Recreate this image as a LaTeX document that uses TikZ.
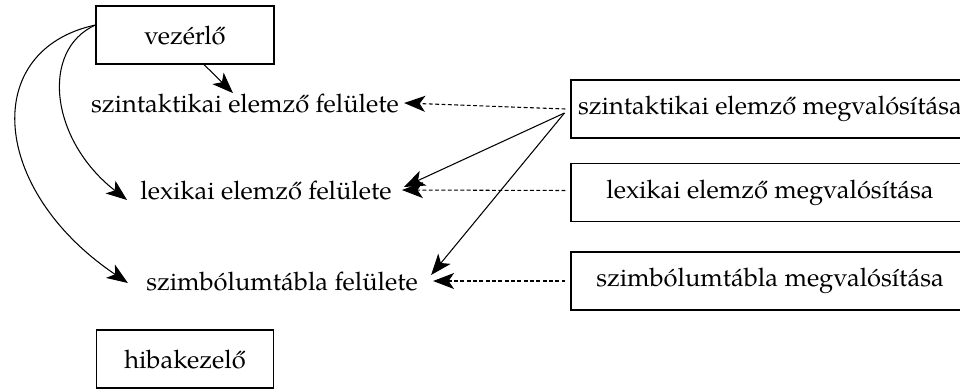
\documentclass[tikz,border=0pt]{standalone}
\usepackage{fontspec}
\setmainfont{TeX Gyre Pagella}
\usetikzlibrary{arrows.meta}
\begin{document}
\begin{tikzpicture}[x=0.02cm, y=-0.02cm, inner sep=0mm,
		font=\fontsize{14.5}{17}\selectfont,
		boxstyle/.style={draw, line width=0.65pt, minimum height=1.16cm},
		edgestyle/.style={line width=0.6pt, -{Stealth[length=4.2mm, width=3.2mm, inset=1.1mm]}},
		implstyle/.style={edgestyle, dash pattern=on 2.2pt off 1.4pt}]
		\useasboundingbox (0,0) rectangle (960,390);

		\node [boxstyle, minimum width=3.56cm] (vez) at (185,35) {vezérlő};
		\node [boxstyle, minimum width=3.54cm] (hiba) at (185,359) {hibakezelő};
		\node [boxstyle, minimum width=7.96cm] (szintm) at (770,109) {szintaktikai elemző megvalósítása};
		\node [boxstyle, minimum width=7.96cm] (lexm) at (770,192.5) {lexikai elemző megvalósítása};
		\node [boxstyle, minimum width=7.96cm] (szimbm) at (770,281) {szimbólumtábla megvalósítása};

		\node (szintf) at (245,103) {szintaktikai elemző felülete};
		\node (lexf) at (266,190) {lexikai elemző felülete};
		\node (szimbf) at (282,281) {szimbólumtábla felülete};

		\draw [edgestyle] ([xshift=0.38cm]vez.south) -- ([xshift=-0.24cm]szintf.north);
		\draw [edgestyle] ([yshift=0.2cm]vez.west) .. controls (40,50) and (50,140) .. ([xshift=-0.26cm, yshift=-0.2cm]lexf.west);
		\draw [edgestyle] ([yshift=0.2cm]vez.west) .. controls (-20,50) and (-10,190) .. ([xshift=-0.36cm, yshift=-0.04cm]szimbf.west);

		\draw [implstyle] ([xshift=-0.1cm]szintm.west) -- ([xshift=0.1cm]szintf.east);
		\draw [implstyle] ([xshift=-0.1cm, yshift=0.04cm]lexm.west) -- ([xshift=0.2cm]lexf.east);
		\draw [implstyle] ([xshift=-0.1cm]szimbm.west) -- ([xshift=0.3cm]szimbf.east);

		\draw [edgestyle] ([xshift=-0.12cm, yshift=-0.08cm]szintm.west) -- ([xshift=0.24cm, yshift=0.06cm]lexf.east);
		\draw [edgestyle] ([xshift=-0.12cm, yshift=-0.08cm]szintm.west) -- ([xshift=0.26cm, yshift=0.12cm]szimbf.east);
\end{tikzpicture}
\end{document}
